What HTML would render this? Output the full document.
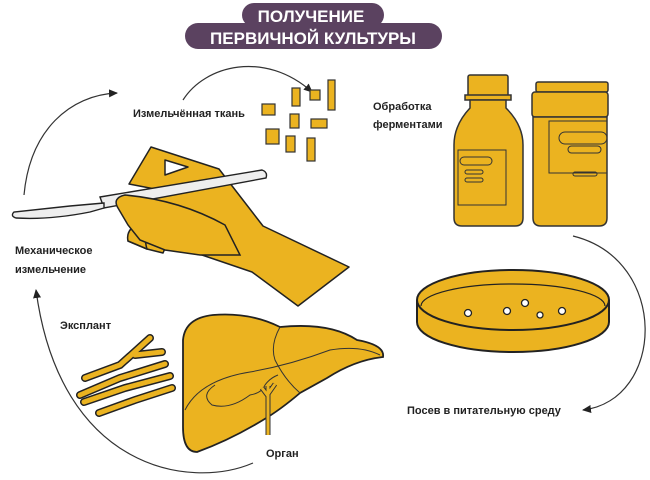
<!DOCTYPE html>
<html><head><meta charset="utf-8"><style>
html,body{margin:0;padding:0;background:#fff;width:650px;height:480px;overflow:hidden}
svg{display:block}
text{font-family:"Liberation Sans","DejaVu Sans",sans-serif}
.l{font-size:11px;font-weight:bold;fill:#222}
</style></head><body>
<svg width="650" height="480" viewBox="0 0 650 480">
<defs><marker id="a" markerWidth="10" markerHeight="10" refX="8" refY="5" orient="auto" markerUnits="userSpaceOnUse"><path d="M0,1 L9,5 L0,9 Z" fill="#222"/></marker></defs>
<rect x="242" y="3" width="142" height="24" rx="12" fill="#5b4260"/>
<rect x="185" y="23" width="257" height="26" rx="13" fill="#5b4260"/>
<text x="311" y="22" text-anchor="middle" fill="#fff" font-size="17" font-weight="bold">ПОЛУЧЕНИЕ</text>
<text x="313" y="44" text-anchor="middle" fill="#fff" font-size="17" font-weight="bold">ПЕРВИЧНОЙ КУЛЬТУРЫ</text>
<g fill="none" stroke="#333" stroke-width="1.2">
<path d="M24,195 C30,130 70,95 117,93" marker-end="url(#a)"/>
<path d="M183,100 C205,65 265,50 312,92" marker-end="url(#a)"/>
<path d="M573,236 C670,260 665,400 583,410" marker-end="url(#a)"/>
<path d="M253,463 C190,490 60,470 36,290" marker-end="url(#a)"/>
</g>
<text class="l" x="133" y="117">Измельчённая ткань</text>
<text class="l" x="373" y="110">Обработка</text>
<text class="l" x="373" y="128">ферментами</text>
<text class="l" x="15" y="254">Механическое</text>
<text class="l" x="15" y="273">измельчение</text>
<text class="l" x="60" y="329">Эксплант</text>
<text class="l" x="266" y="457">Орган</text>
<text class="l" x="407" y="414">Посев в питательную среду</text>
<g fill="#ebb320" stroke="#333" stroke-width="1.2">
<rect x="292" y="88" width="8" height="18"/><rect x="310" y="90" width="10" height="10"/><rect x="328" y="80" width="7" height="30"/>
<rect x="262" y="104" width="13" height="11"/><rect x="290" y="114" width="9" height="14"/><rect x="311" y="119" width="16" height="9"/>
<rect x="266" y="129" width="13" height="15"/><rect x="286" y="136" width="9" height="16"/><rect x="307" y="138" width="8" height="23"/>
</g>
<g stroke="#333" stroke-width="1.5" fill="#ebb320">
<rect x="468" y="75" width="40" height="22" rx="2"/>
<rect x="465" y="95" width="46" height="5"/>
<path d="M470,100 L506,100 L506,108 Q523,125 523,145 L523,218 Q523,226 515,226 L462,226 Q454,226 454,218 L454,145 Q454,125 470,108 Z"/>
<rect x="536" y="82" width="72" height="10" rx="2"/>
<rect x="532" y="92" width="76" height="25" rx="3"/>
<path d="M533,117 L607,117 L607,218 Q607,226 599,226 L541,226 Q533,226 533,218 Z"/>
</g>
<g stroke="#333" stroke-width="1" fill="none">
<rect x="458" y="150" width="48" height="55"/>
<rect x="460" y="157" width="32" height="8" rx="4"/><rect x="465" y="170" width="18" height="4" rx="2"/><rect x="465" y="178" width="18" height="4" rx="2"/>
<rect x="549" y="121" width="58" height="52"/>
<rect x="559" y="132" width="48" height="12" rx="6"/><rect x="568" y="146" width="33" height="7" rx="3.5"/><rect x="573" y="172" width="24" height="4" rx="2"/>
</g>
<g stroke="#222" stroke-width="2" fill="#ebb320">
<path d="M417,300 L417,322 A96,30 0 0 0 609,322 L609,300"/>
<ellipse cx="513" cy="300" rx="96" ry="30"/>
</g>
<path d="M421,306 A92,22 0 0 1 605,306" fill="none" stroke="#222" stroke-width="1.2"/>
<g fill="#fff" stroke="#222" stroke-width="1.3">
<circle cx="468" cy="313" r="3.5"/><circle cx="507" cy="311" r="3.5"/><circle cx="525" cy="303" r="3.5"/><circle cx="540" cy="315" r="3"/><circle cx="562" cy="311" r="3.5"/>
</g>
<g stroke="#222" stroke-width="1.5" fill="#ebb320" stroke-linejoin="round">
<path d="M129,184 L151,147 L219,169 L263,226 L349,267 L298,306 L252,272 L202,255 L168,250 L147,249 L128,241 L135,220 L160,190 Z"/>
<path d="M128,241 Q126,232 134,226 L148,228 Q150,240 147,249 Z"/>
<path d="M147,249 Q143,236 150,230 L165,232 Q167,245 163,253 Z"/>
<path d="M165,175 L188,167 L165,160 Z" fill="#fff"/>
</g>
<g stroke="#222" stroke-width="1.4">
<path d="M100,197 L262,170 Q268,172 266,178 L104,208 Z" fill="#eee"/>
<path d="M104,203 L70,206 L14,212 Q10,216 16,218 Q50,220 90,212 L104,208 Z" fill="#eee"/>
</g>
<path d="M118,208 Q112,198 125,195 Q180,200 225,225 L240,255 L200,255 L165,250 L140,240 L128,225 Z" fill="#ebb320" stroke="#222" stroke-width="1.5"/>
<!-- explant -->
<g fill="none" stroke-linecap="round">
<g stroke="#222" stroke-width="8">
<path d="M85,378 L120,365 L150,338"/><path d="M135,355 L162,352"/>
<path d="M80,395 L120,378 L165,364"/>
<path d="M84,402 L125,388 L170,376"/>
<path d="M99,413 L135,400 L172,388"/>
</g>
<g stroke="#ebb320" stroke-width="5">
<path d="M85,378 L120,365 L150,338"/><path d="M135,355 L162,352"/>
<path d="M80,395 L120,378 L165,364"/>
<path d="M84,402 L125,388 L170,376"/>
<path d="M99,413 L135,400 L172,388"/>
</g>
</g>
<path d="M183,340 Q185,318 213,315 Q250,312 280,327 Q330,322 357,340 Q385,345 383,357 Q355,360 327,378 L300,393 Q280,410 263,420 Q230,440 197,452 Q183,452 183,427 Z" fill="#ebb320" stroke="#222" stroke-width="1.8"/>
<g fill="none" stroke="#333" stroke-width="1">
<path d="M280,327 Q270,345 275,360 Q285,380 300,393"/>
<path d="M185,410 Q200,380 250,372 Q290,365 330,350 Q360,345 380,355"/>
<path d="M215,385 Q200,395 212,405 Q230,410 250,395 Q262,393 265,385 Q270,378 278,375"/>
</g>
<path d="M268,386 L268,435 M268,396 L262,388 M268,394 L275,384" stroke="#333" stroke-width="5" fill="none"/>
<path d="M268,386 L268,435 M268,396 L262,388 M268,394 L275,384" stroke="#ebb320" stroke-width="3" fill="none"/>
</svg>
</body></html>
